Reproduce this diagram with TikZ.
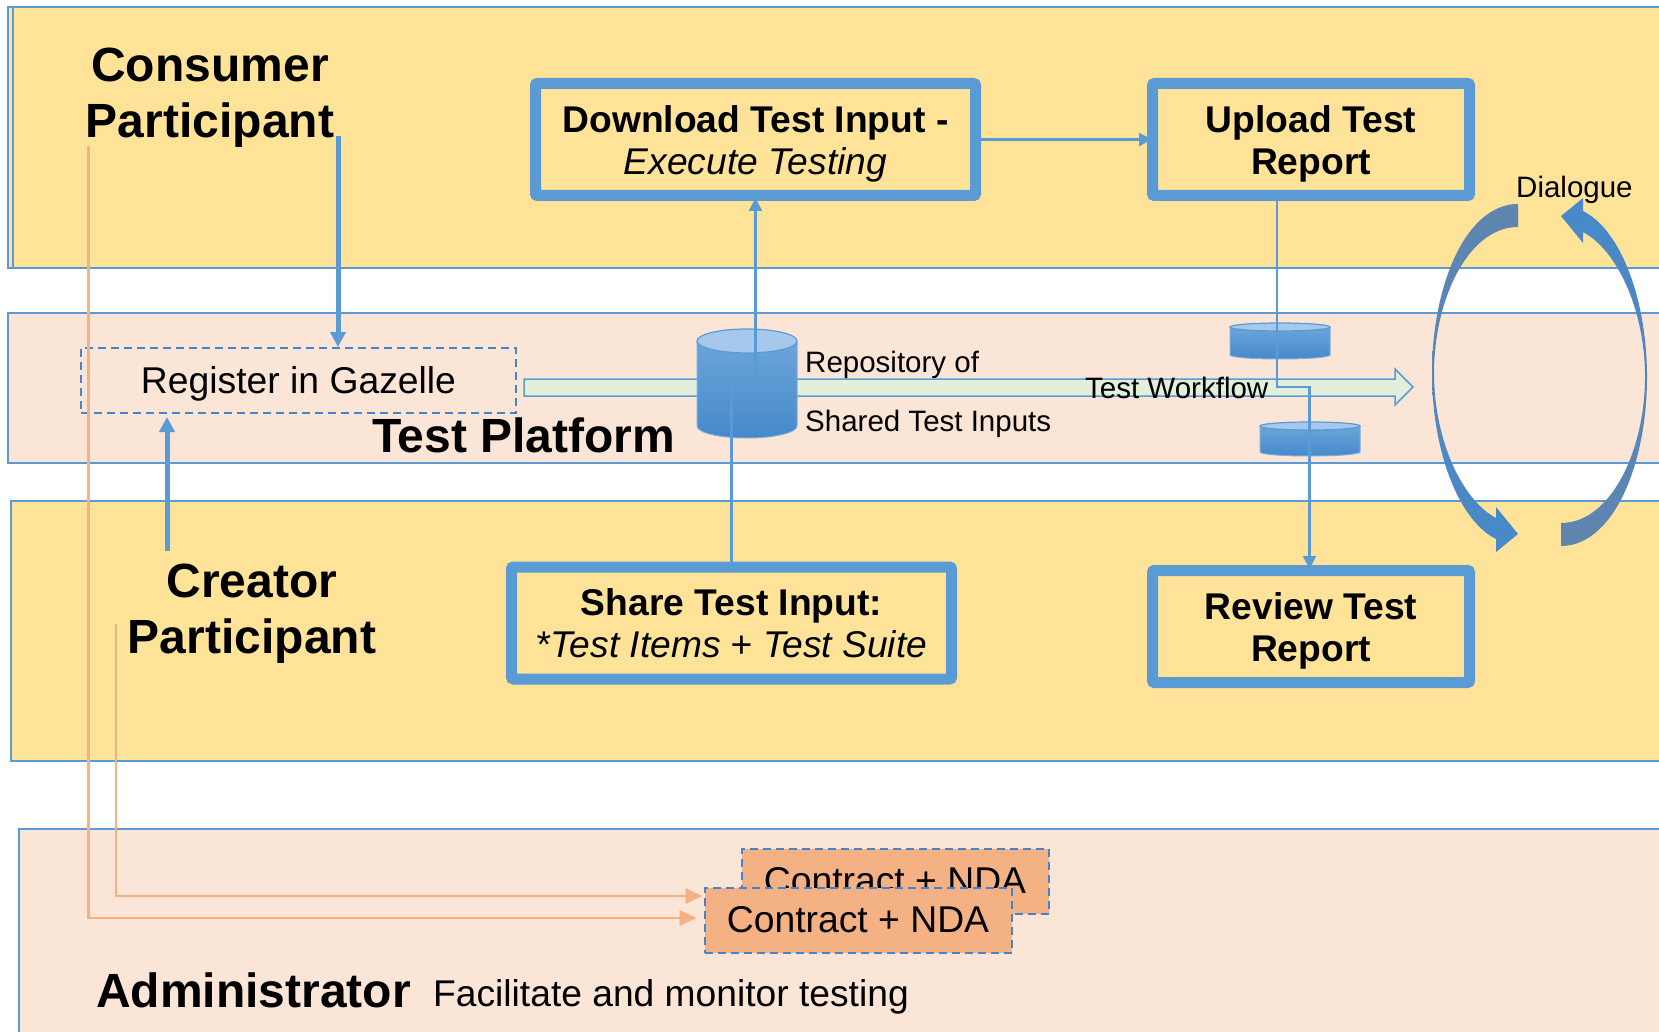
\documentclass[tikz,border=0pt]{standalone}
\usepackage{fontspec}
\setmainfont{Liberation Sans}
\usetikzlibrary{arrows.meta}
\definecolor{laneblue}{RGB}{91,155,213}
\definecolor{dashblue}{RGB}{68,132,204}
\definecolor{laneyellow}{RGB}{255,227,152}
\definecolor{lanepink}{RGB}{251,229,214}
\definecolor{contractorange}{RGB}{244,177,131}
\definecolor{flowgreen}{RGB}{226,239,218}
\definecolor{drumtop}{RGB}{166,200,236}
\definecolor{drumlow}{RGB}{70,137,202}
\definecolor{arcgrey}{RGB}{96,133,174}
\tikzset{
    lane/.style={draw=laneblue, line width=1.5pt},
    lowtext/.style={execute at begin node={\rule{0pt}{#1}}},
    taskbox/.style={draw=laneblue, line width=11pt, rounded corners=2pt, minimum width=440pt, minimum height=112pt, align=center, inner sep=0pt, font=\fontsize{37.2}{42}\selectfont},
    roletext/.style={align=center, inner sep=0pt, font=\fontsize{48}{56}\selectfont\bfseries},
    plaintext/.style={anchor=base west, inner sep=0pt, font=\fontsize{29.5}{34}\selectfont},
    bodytext/.style={anchor=base west, inner sep=0pt, font=\fontsize{37.2}{42}\selectfont},
    dashbox/.style={draw=dashblue, line width=2pt, dash pattern=on 8pt off 5pt, inner sep=0pt, font=\fontsize{37.3}{42}\selectfont},
    contractbox/.style={dashbox, fill=contractorange, minimum width=307pt, minimum height=65pt, text depth=2pt},
    thicklink/.style={draw=laneblue, line width=5pt, -{Triangle[length=15pt,width=15pt]}},
    thinlink/.style={draw=laneblue, line width=2.5pt, -{Triangle[length=13pt,width=13pt]}},
    adminlink/.style={draw=contractorange, line width=2.8pt, -{Triangle[length=17pt,width=15pt]}}
}
% pushes the two lines of a task box down a little
\newcommand{\lowline}{\rule{0pt}{1pt}\\[-8pt]}
% one can of the repository: centre x, top y, bottom y, half width, ellipse height
\newcommand{\drawdrum}[5]{
    \path[top color=laneblue!90!white, bottom color=drumlow, draw=laneblue!80!white, line width=1pt]
        (#1-#4,#2) -- (#1-#4,#3) arc[start angle=180, end angle=0, x radius=#4, y radius=#5]
        -- (#1+#4,#2) -- cycle;
    \draw[fill=drumtop, draw=laneblue, line width=1.2pt] (#1,#2) ellipse[x radius=#4, y radius=#5];
}
\newcommand{\dialoguearc}{
    (1518,204) .. controls (1466,204) and (1432,285) .. (1432,373)
    .. controls (1432,450) and (1458,520) .. (1496,539)
    -- (1496,552) -- (1518,534) -- (1496,507) -- (1496,518)
    .. controls (1462,500) and (1434,440) .. (1434,373)
    .. controls (1434,300) and (1468,227) .. (1518,227) -- cycle
}
\begin{document}
\begin{tikzpicture}[x=1pt, y=-1pt]
    \useasboundingbox (0,0) rectangle (1659,1032);
    \clip (0,0) rectangle (1659,1032);

    % Lanes
    \draw[lane, fill=laneyellow] (8,7) rectangle (1680,268);
    \draw[lane] (13,7) -- (13,268);
    \draw[lane, fill=lanepink] (8,313) rectangle (1680,463);
    \draw[lane, fill=laneyellow] (11,501) rectangle (1680,761);
    \draw[lane, fill=lanepink] (19,829) rectangle (1680,1050);

    % Dialogue arrows
    \path[top color=arcgrey, middle color=laneblue, bottom color=drumlow] \dialoguearc;
    \path[top color=drumlow, middle color=laneblue, bottom color=arcgrey, rotate around={180:(1539.5,375)}] \dialoguearc;
    \node[plaintext] (dialogue) at (1516,198) {Dialogue};

    % Workflow arrow
    \draw[draw=laneblue, line width=1.5pt, fill=flowgreen] (524,379) -- (1395,379) -- (1395,369) -- (1413,387) -- (1395,405) -- (1395,396) -- (524,396) -- cycle;

    % Repository
    \drawdrum{747}{341}{426}{50}{12}
    \drawdrum{1280}{327}{355}{50}{4}
    \drawdrum{1310}{426}{452}{50}{4}
    \node[plaintext] (repoone) at (805,372) {Repository of};
    \node[plaintext] (repotwo) at (805,431) {Shared Test Inputs};
    \node[plaintext] (workflow) at (1085,398) {Test Workflow};

    % Role names
    \node[roletext] (consumer) at (210,98) {Consumer\\Participant};
    \node[roletext] (creator) at (252,613.5) {Creator\\Participant};
    \node[roletext, anchor=base west] (platform) at (372,452) {Test Platform};
    \node[roletext, anchor=base west] (admin) at (96,1007) {Administrator};
    \node[bodytext] (facilitate) at (433,1006) {Facilitate and monitor testing};

    % Tasks
    \node[taskbox] (download) at (755.5,139.5) {\lowline\textbf{Download Test Input -}\\\textit{Execute Testing}};
    \node[taskbox, minimum width=317pt] (upload) at (1311,139.5) {\lowline\textbf{Upload Test}\\\textbf{Report}};
    \node[taskbox] (share) at (731.5,623) {\textbf{Share Test Input:}\\\textit{*Test Items + Test Suite}};
    \node[taskbox, minimum width=317pt] (review) at (1311,626.5) {\lowline\textbf{Review Test}\\\textbf{Report}};
    \node[dashbox, lowtext=33pt, minimum width=435pt, minimum height=65pt] (register) at (298.5,380.5) {Register in Gazelle};
    \node[contractbox] (contractback) at (895,881.5) {Contract + NDA};
    \node[contractbox] (contractfront) at (858,920.5) {Contract + NDA};

    % Free ends of the connectors
    \coordinate (consumerout) at (338,136);
    \coordinate (creatorout) at (167,551);
    \coordinate (consumerdrop) at (88.5,146);
    \coordinate (creatordrop) at (116,624);
    \coordinate (repobendone) at (731.5,380);
    \coordinate (repobendtwo) at (755.5,380);
    \coordinate (uploadout) at (1277,201);
    \coordinate (reviewbend) at (1277,387);
    \coordinate (reviewin) at (1309.5,565);

    % Connectors
    \draw[thicklink] (consumerout) -- (consumerout |- register.north);
    \draw[thicklink, shorten >=3pt] (creatorout) -- (creatorout |- register.south);
    \draw[adminlink, shorten >=7pt] (consumerdrop) |- ([yshift=2.5pt]contractfront.west);
    \draw[adminlink, shorten >=1pt] (creatordrop) |- ([yshift=24.5pt]contractfront.west);
    \draw[thinlink, shorten >=-5pt] (download.east) -- (upload.west);
    \draw[thinlink, shorten >=-3pt] (share.north) -- (repobendone) -- (repobendtwo) -- (download.south);
    \draw[thinlink, shorten >=-4pt] (uploadout) -- (reviewbend) -| (reviewin);
\end{tikzpicture}
\end{document}
